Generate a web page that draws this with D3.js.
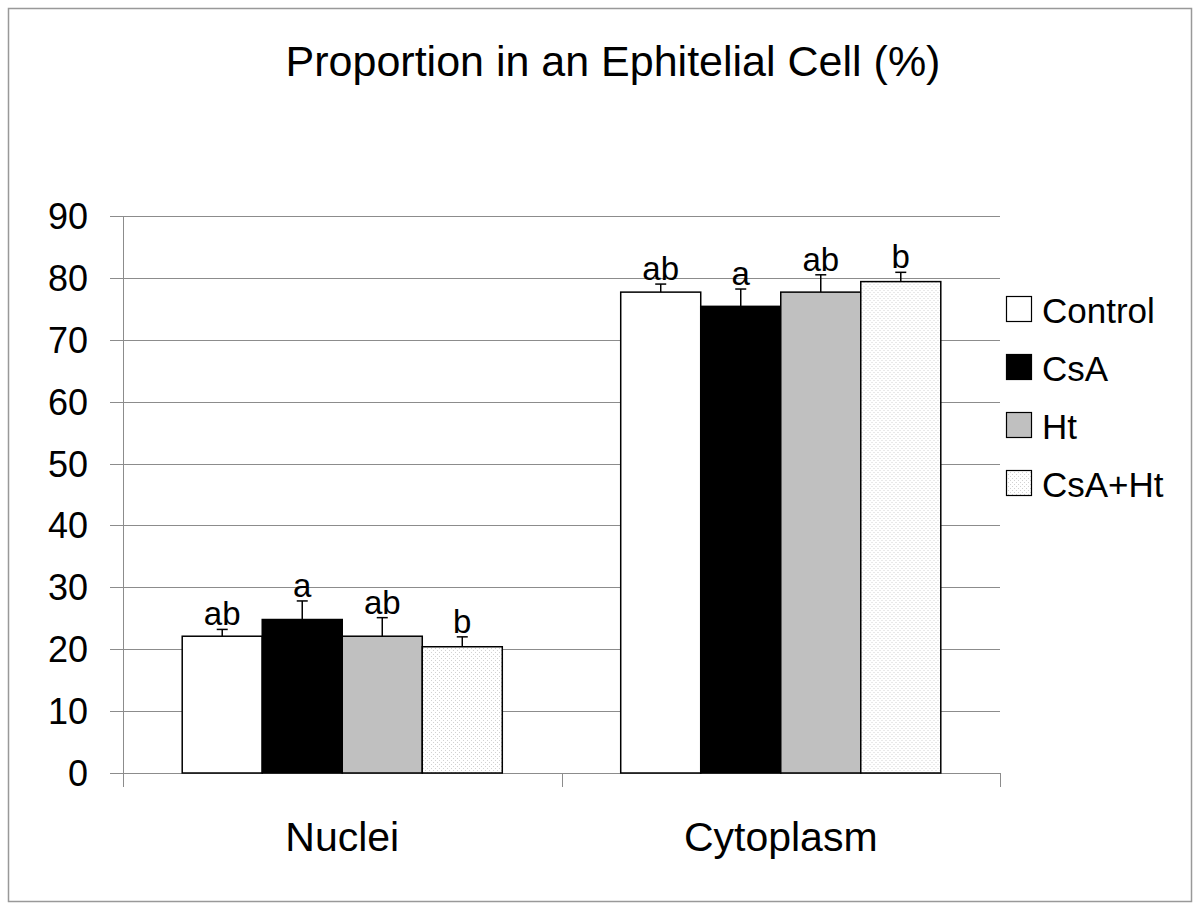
<!DOCTYPE html>
<html>
<head>
<meta charset="utf-8">
<script src="https://cdn.jsdelivr.net/npm/d3@7"></script>
<style>
  body { margin: 0; background: #fff; }
  text { font-family: Arial, "Liberation Sans", sans-serif; fill: #000; }
</style>
</head>
<body>
<div id="chart"></div>
<script>
// data
const categories = ["Nuclei", "Cytoplasm"];
const groups = ["Control", "CsA", "Ht", "CsA+Ht"];
const means = [
  [22.1, 24.8, 22.1, 20.4],
  [77.7, 75.4, 77.7, 79.4]
];
const errors = [
  [1.1, 3.0, 3.0, 1.6],
  [1.3, 2.8, 2.8, 1.5]
];
const letters = [
  ["ab", "a", "ab", "b"],
  ["ab", "a", "ab", "b"]
];
const yTicks = [0, 10, 20, 30, 40, 50, 60, 70, 80, 90];

const width = 1200, height = 909;
const fills = ["#ffffff", "#000000", "#c0c0c0", "url(#dots)"];

const svg = d3.select("#chart").append("svg")
  .attr("width", width).attr("height", height);

// dotted fill for CsA+Ht
const pat = svg.append("defs").append("pattern")
  .attr("id", "dots").attr("width", 4).attr("height", 4)
  .attr("patternUnits", "userSpaceOnUse");
pat.append("rect").attr("width", 4).attr("height", 4).attr("fill", "#fff");
pat.append("rect").attr("x", 0).attr("y", 0).attr("width", 1).attr("height", 1).attr("fill", "#d2d2d2");
pat.append("rect").attr("x", 2).attr("y", 2).attr("width", 1).attr("height", 1).attr("fill", "#d2d2d2");

// outer frame
svg.append("rect")
  .attr("x", 8.5).attr("y", 8.5).attr("width", 1183).attr("height", 893)
  .attr("fill", "none").attr("stroke", "#999").attr("stroke-width", 1.5);

const plotLeft = 123, plotRight = 1000, plotTop = 216, plotBottom = 773;

const x0 = d3.scaleBand().domain(categories).range([plotLeft, plotRight]).paddingInner(0).paddingOuter(0);
const x1 = d3.scaleBand().domain(groups).range([0, x0.bandwidth()]).paddingInner(0).paddingOuter(0.74);
const y = d3.scaleLinear().domain([0, 90]).range([plotBottom, plotTop]);

// title
svg.append("text")
  .attr("x", 613).attr("y", 76)
  .attr("text-anchor", "middle")
  .style("font-size", "43px")
  .text("Proportion in an Ephitelial Cell (%)");

// gridlines
svg.append("g").selectAll("line")
  .data(yTicks)
  .join("line")
  .attr("x1", 110).attr("x2", plotRight)
  .attr("y1", d => Math.round(y(d)) + 0.5).attr("y2", d => Math.round(y(d)) + 0.5)
  .attr("stroke", "#8c8c8c").attr("stroke-width", 1);

// y tick labels
svg.append("g").selectAll("text")
  .data(yTicks)
  .join("text")
  .attr("x", 88).attr("y", d => y(d) + 13)
  .attr("text-anchor", "end")
  .style("font-size", "36px")
  .text(d => d);

// y axis line
svg.append("line")
  .attr("x1", plotLeft + 0.5).attr("x2", plotLeft + 0.5)
  .attr("y1", plotTop).attr("y2", plotBottom + 14)
  .attr("stroke", "#8c8c8c");

// category ticks below baseline
const catEdges = [plotLeft, x0(categories[1]), plotRight];
svg.append("g").selectAll("line")
  .data(catEdges)
  .join("line")
  .attr("x1", d => Math.round(d) + 0.5).attr("x2", d => Math.round(d) + 0.5)
  .attr("y1", plotBottom).attr("y2", plotBottom + 14)
  .attr("stroke", "#8c8c8c");

// category labels
svg.append("g").selectAll("text")
  .data(categories)
  .join("text")
  .attr("x", d => x0(d) + x0.bandwidth() / 2)
  .attr("y", 851)
  .attr("text-anchor", "middle")
  .style("font-size", "41px")
  .text(d => d);

// bars, error bars, letters
categories.forEach((cat, ci) => {
  const g = svg.append("g").attr("transform", `translate(${x0(cat)},0)`);
  const rows = groups.map((grp, gi) => ({
    grp, gi, v: means[ci][gi], e: errors[ci][gi], l: letters[ci][gi]
  }));

  g.selectAll("rect")
    .data(rows)
    .join("rect")
    .attr("x", d => x1(d.grp))
    .attr("y", d => y(d.v))
    .attr("width", x1.bandwidth())
    .attr("height", d => y(0) - y(d.v))
    .attr("fill", d => fills[d.gi])
    .attr("stroke", "#000").attr("stroke-width", 1.5);

  g.selectAll("line.err")
    .data(rows)
    .join("line")
    .attr("class", "err")
    .attr("x1", d => x1(d.grp) + x1.bandwidth() / 2)
    .attr("x2", d => x1(d.grp) + x1.bandwidth() / 2)
    .attr("y1", d => y(d.v)).attr("y2", d => y(d.v + d.e))
    .attr("stroke", "#000").attr("stroke-width", 1.5);

  g.selectAll("line.cap")
    .data(rows)
    .join("line")
    .attr("class", "cap")
    .attr("x1", d => x1(d.grp) + x1.bandwidth() / 2 - 5.5)
    .attr("x2", d => x1(d.grp) + x1.bandwidth() / 2 + 5.5)
    .attr("y1", d => y(d.v + d.e)).attr("y2", d => y(d.v + d.e))
    .attr("stroke", "#000").attr("stroke-width", 1.5);

  g.selectAll("text")
    .data(rows)
    .join("text")
    .attr("x", d => x1(d.grp) + x1.bandwidth() / 2)
    .attr("y", d => y(d.v + d.e) - 4)
    .attr("text-anchor", "middle")
    .style("font-size", "33px")
    .text(d => d.l);
});

// legend
const legend = svg.append("g").attr("transform", "translate(1006,0)");
const legY = d3.scalePoint().domain(groups).range([323, 497]);
legend.selectAll("rect")
  .data(groups)
  .join("rect")
  .attr("x", 0.5).attr("y", d => legY(d) - 26.5)
  .attr("width", 25).attr("height", 25)
  .attr("fill", (d, i) => fills[i])
  .attr("stroke", "#000").attr("stroke-width", 1.2);
legend.selectAll("text")
  .data(groups)
  .join("text")
  .attr("x", 36).attr("y", d => legY(d))
  .style("font-size", "35px")
  .text(d => d);
</script>
</body>
</html>
